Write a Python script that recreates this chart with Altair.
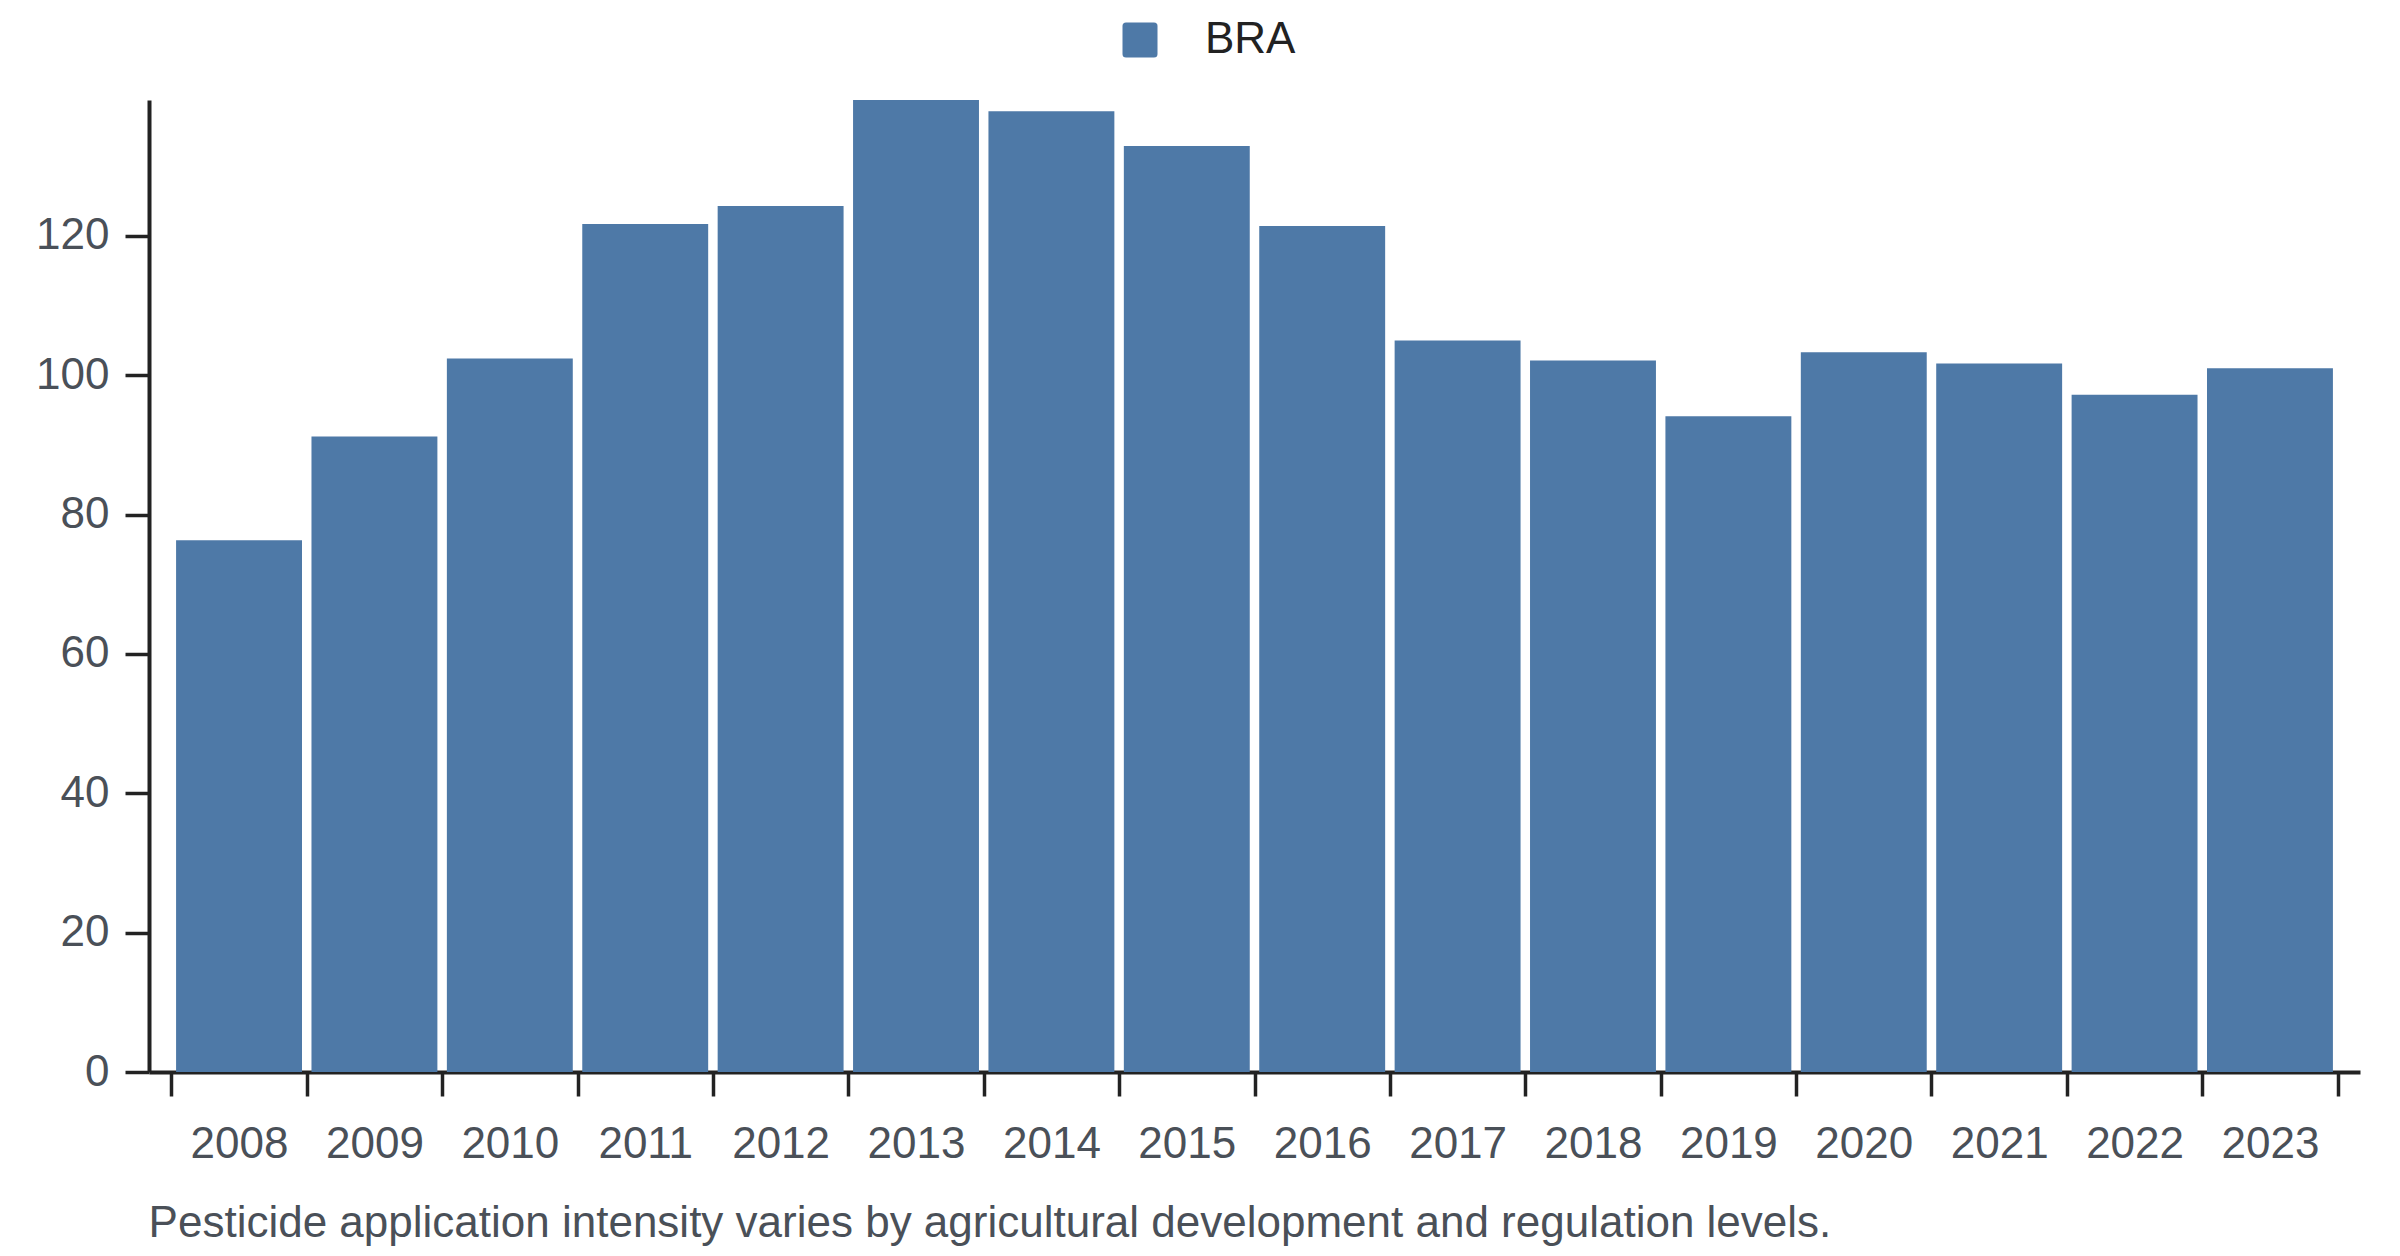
import altair as alt
import pandas as pd

years = [str(y) for y in range(2008, 2024)]
values = [76.3, 91.2, 102.4, 121.7, 124.3, 139.5, 137.9, 132.9, 121.4, 105.0,
          102.1, 94.1, 103.3, 101.7, 97.2, 101.0]
country = ["BRA"] * len(years)
y_ticks = [0, 20, 40, 60, 80, 100, 120]
caption = "Pesticide application intensity varies by agricultural development and regulation levels."

df = pd.DataFrame({"year": years, "value": values, "country": country})

FONT = "Liberation Sans"
LABEL = "#4a5058"
AXIS = "#222222"
BLUE = "#4e79a7"

rounded_square = ("M-1,-0.8 Q-1,-1 -0.8,-1 L0.8,-1 Q1,-1 1,-0.8 L1,0.8 "
                  "Q1,1 0.8,1 L-0.8,1 Q-1,1 -1,0.8 Z")

chart = alt.Chart(df).mark_bar(width=alt.RelativeBandSize(0.93)).encode(
    x=alt.X("year:O",
            scale=alt.Scale(paddingInner=0, paddingOuter=0.165),
            axis=alt.Axis(title=None, labelAngle=0, tickBand="extent",
                          labelFont=FONT, labelFontSize=44, labelColor=LABEL,
                          labelPadding=26, tickSize=24, tickWidth=3.5,
                          tickColor=AXIS, domainColor=AXIS, domainWidth=4)),
    y=alt.Y("value:Q",
            scale=alt.Scale(nice=False, zero=True),
            axis=alt.Axis(title=None, values=y_ticks, grid=False,
                          labelFont=FONT, labelFontSize=44, labelColor=LABEL,
                          labelPadding=16, tickSize=24, tickWidth=3.5,
                          tickColor=AXIS, domainColor=AXIS, domainWidth=4)),
    color=alt.Color("country:N",
                    scale=alt.Scale(range=[BLUE]),
                    legend=alt.Legend(title=None, orient="none",
                                      legendX=969, legendY=-82, padding=0,
                                      symbolType=rounded_square, symbolSize=1225,
                                      symbolStrokeWidth=0, symbolOpacity=1,
                                      labelFont=FONT, labelFontSize=44,
                                      labelColor=AXIS, labelOffset=43,
                                      direction="horizontal")),
).properties(
    width=2211,
    height=972,
    title=alt.TitleParams(text=caption, orient="bottom", anchor="start",
                          font=FONT, fontSize=44, fontWeight="normal",
                          color=LABEL, offset=36, dx=113),
    padding={"left": 141, "top": 92, "right": 30, "bottom": 182},
    autosize=alt.AutoSizeParams(type="none"),
    background="white",
).configure_view(stroke=None)

chart.save("out.html", embed_options={"renderer": "svg", "actions": False})
